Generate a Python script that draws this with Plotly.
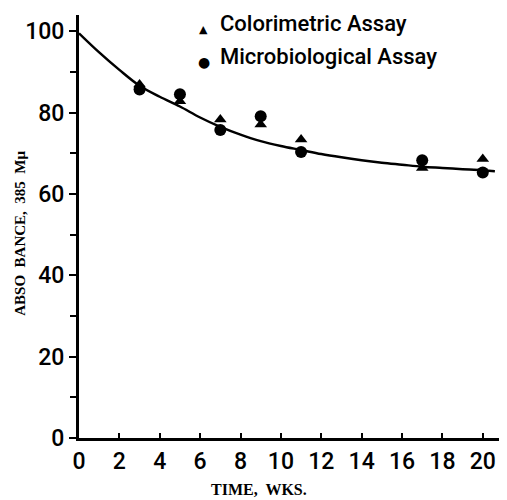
import plotly.graph_objects as go

# Data
weeks = [3, 5, 7, 9, 11, 17, 20]
colorimetric = [86.9, 82.8, 78.3, 77.1, 73.4, 66.4, 68.6]
microbiological = [85.7, 84.5, 75.7, 79.1, 70.3, 68.3, 65.3]

# Smooth fitted curve
curve_x = [0, 1, 2, 3, 4, 5, 6, 7, 8, 9, 10, 11, 12, 13, 14, 15, 16, 17, 18, 19, 20, 20.6]
curve_y = [99.5, 94.8, 90.5, 86.6, 83.9, 81.5, 78.8, 76.5, 74.6, 73.0, 71.8, 70.8,
           69.8, 69.0, 68.3, 67.7, 67.2, 66.7, 66.4, 66.1, 65.8, 65.6]

x_ticks = list(range(0, 21, 2))
x_tick_labels = [str(v) for v in x_ticks]
y_ticks = [0, 20, 40, 60, 80, 100]
y_tick_labels = [str(v) for v in y_ticks]
legend_labels = ["Colorimetric Assay", "Microbiological Assay"]

sans = "Roboto, Liberation Sans, sans-serif"
tick_font = dict(family=sans, size=23, color="black", weight=500)
title_font = dict(family="Liberation Serif, DejaVu Serif, serif", size=15, color="black")
xtitle_font = dict(family="Liberation Serif, DejaVu Serif, serif", size=16, color="black")
legend_font = dict(family=sans, size=22, color="black", weight=500)
symbol_font = dict(family="DejaVu Sans, sans-serif", size=11, color="black")

fig = go.Figure()
fig.add_trace(go.Scatter(x=curve_x, y=curve_y, mode="lines", line=dict(color="black", width=2.5, shape="spline"),
                         showlegend=False, hoverinfo="skip"))
fig.add_trace(go.Scatter(x=weeks, y=colorimetric, mode="markers", name=legend_labels[0], showlegend=False,
                         marker=dict(symbol="triangle-up", size=11, color="black")))
fig.add_trace(go.Scatter(x=weeks, y=microbiological, mode="markers", name=legend_labels[1], showlegend=False,
                         marker=dict(symbol="circle", size=12, color="black")))

# page body has an 8px margin, so the figure is sized 8px smaller
fig.update_layout(
    width=499, height=492,
    margin=dict(l=71, r=0, t=7, b=62),
    paper_bgcolor="white", plot_bgcolor="white",
    xaxis=dict(range=[0, 21.2], tickmode="array", tickvals=x_ticks, ticktext=x_tick_labels,
               ticks="inside", ticklen=5, tickwidth=1.5, tickcolor="black",
               showline=True, linecolor="black", linewidth=3, showgrid=False, zeroline=False,
               tickfont=tick_font, automargin=False),
    yaxis=dict(range=[0, 104], tickmode="array", tickvals=y_ticks, ticktext=y_tick_labels,
               ticks="outside", ticklen=7, tickwidth=1.5, tickcolor="black",
               minor=dict(tickvals=[10, 30, 50, 70, 90], ticks="outside", ticklen=6, tickcolor="black", tickwidth=1.5),
               showline=True, linecolor="black", linewidth=3, showgrid=False, zeroline=False,
               tickfont=tick_font, automargin=False),
    annotations=[
        dict(text="<b>TIME,  WKS.</b>", xref="paper", yref="paper", x=0.42, y=-0.121,
             xanchor="center", yanchor="middle", showarrow=False, font=xtitle_font),
        dict(text="<b>ABSO  BANCE,  385  Mμ</b>", xref="paper", yref="paper", x=-0.138, y=0.485,
             xanchor="center", yanchor="middle", showarrow=False, textangle=-90, font=title_font),
        dict(text=legend_labels[0], xref="paper", yref="paper", x=0.325, y=0.979,
             xanchor="left", yanchor="middle", showarrow=False, font=legend_font),
        dict(text=legend_labels[1], xref="paper", yref="paper", x=0.325, y=0.901,
             xanchor="left", yanchor="middle", showarrow=False, font=legend_font),
        dict(text="▲", xref="paper", yref="paper", x=0.290, y=0.965,
             xanchor="center", yanchor="middle", showarrow=False, font=symbol_font),
        dict(text="●", xref="paper", yref="paper", x=0.292, y=0.889,
             xanchor="center", yanchor="middle", showarrow=False, font=dict(family="DejaVu Sans, sans-serif", size=14, color="black")),
    ],
)

fig.write_html("out.html")
